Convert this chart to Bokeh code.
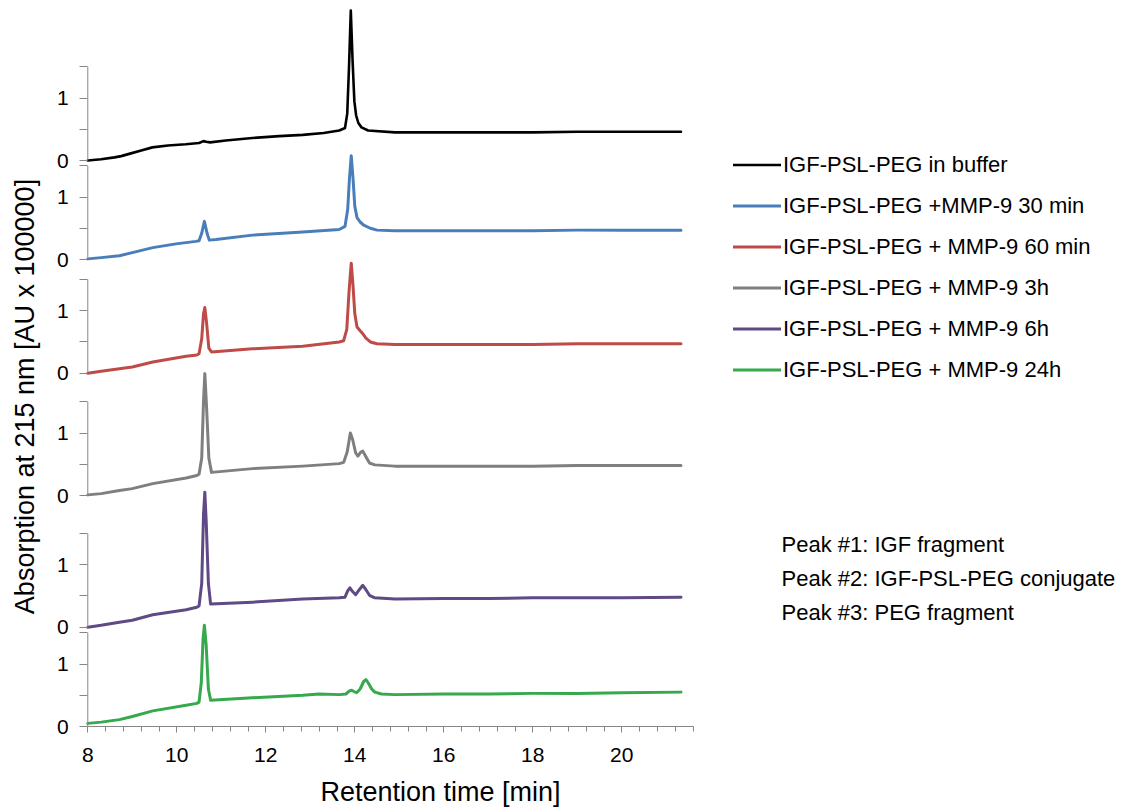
from bokeh.plotting import figure
from bokeh.models import Range1d, FixedTicker, Legend, LegendItem, Label
from bokeh.embed import file_html
from bokeh.resources import INLINE
import math

FONT = "Liberation Sans"

# ---------------- data ----------------
series_names = [
    "IGF-PSL-PEG in buffer",
    "IGF-PSL-PEG +MMP-9 30 min",
    "IGF-PSL-PEG + MMP-9 60 min",
    "IGF-PSL-PEG + MMP-9 3h",
    "IGF-PSL-PEG + MMP-9 6h",
    "IGF-PSL-PEG + MMP-9 24h",
]

x_buffer = [8.0, 8.3, 8.6, 8.75, 8.95, 9.2, 9.45, 9.8, 10.2, 10.5, 10.6, 10.66, 10.75, 11.1, 11.7, 12.3,
            12.83, 13.3, 13.65, 13.78, 13.83, 13.87, 13.91, 13.95, 13.99, 14.03, 14.08, 14.15, 14.3,
            14.9, 16.0, 17.0, 18.0, 19.0, 20.0, 21.33]
y_buffer = [0.0, 0.02, 0.05, 0.07, 0.11, 0.16, 0.21, 0.24, 0.26, 0.28, 0.31, 0.30, 0.29, 0.32, 0.36, 0.39,
            0.41, 0.44, 0.48, 0.52, 0.75, 1.50, 2.40, 1.60, 0.95, 0.72, 0.60, 0.53, 0.48,
            0.45, 0.45, 0.45, 0.45, 0.46, 0.46, 0.46]

x_30min = [8.0, 8.3, 8.71, 9.0, 9.46, 9.98, 10.43, 10.5, 10.56, 10.62, 10.68, 10.73, 10.88, 11.7, 12.83,
           13.65, 13.78, 13.84, 13.88, 13.92, 13.96, 14.0, 14.05, 14.12, 14.2, 14.35, 14.5, 14.9,
           16.0, 17.0, 18.0, 19.0, 20.0, 21.33]
y_30min = [0.01, 0.03, 0.06, 0.11, 0.19, 0.25, 0.29, 0.30, 0.42, 0.61, 0.42, 0.31, 0.32, 0.39, 0.44,
           0.48, 0.53, 0.80, 1.30, 1.66, 1.30, 0.85, 0.67, 0.60, 0.55, 0.50, 0.47, 0.46,
           0.46, 0.46, 0.46, 0.47, 0.47, 0.47]

x_60min = [8.0, 8.3, 8.71, 9.0, 9.46, 10.21, 10.45, 10.5, 10.56, 10.6, 10.63, 10.67, 10.72, 10.78, 11.7,
           12.83, 13.65, 13.75, 13.82, 13.87, 13.92, 13.96, 14.0, 14.05, 14.12, 14.17, 14.25, 14.35,
           14.5, 14.9, 16.0, 17.0, 18.0, 19.0, 20.0, 21.33]
y_60min = [0.0, 0.03, 0.07, 0.10, 0.18, 0.27, 0.29, 0.31, 0.55, 0.95, 1.05, 0.80, 0.40, 0.34, 0.39,
           0.43, 0.50, 0.52, 0.70, 1.30, 1.76, 1.40, 0.95, 0.74, 0.68, 0.64, 0.56, 0.50,
           0.47, 0.46, 0.46, 0.46, 0.46, 0.47, 0.47, 0.47]

x_3h = [8.0, 8.3, 8.71, 9.0, 9.46, 10.21, 10.45, 10.5, 10.56, 10.6, 10.63, 10.67, 10.72, 10.78, 11.7,
        12.83, 13.65, 13.75, 13.83, 13.9, 13.95, 14.02, 14.07, 14.13, 14.18, 14.25, 14.33, 14.45,
        14.9, 16.0, 17.0, 18.0, 19.0, 20.0, 21.33]
y_3h = [0.01, 0.03, 0.08, 0.11, 0.19, 0.28, 0.32, 0.34, 0.60, 1.50, 1.95, 1.40, 0.60, 0.37, 0.43,
        0.47, 0.51, 0.53, 0.70, 1.00, 0.90, 0.68, 0.63, 0.69, 0.71, 0.62, 0.52, 0.49,
        0.47, 0.47, 0.47, 0.47, 0.48, 0.48, 0.48]

x_6h = [8.0, 8.3, 8.71, 9.0, 9.46, 10.21, 10.45, 10.5, 10.56, 10.6, 10.63, 10.66, 10.71, 10.76, 11.7,
        12.83, 13.65, 13.78, 13.84, 13.89, 13.95, 14.02, 14.1, 14.18, 14.25, 14.33, 14.45, 14.9,
        16.0, 17.0, 18.0, 19.0, 20.0, 21.33]
y_6h = [0.0, 0.03, 0.08, 0.11, 0.20, 0.28, 0.32, 0.34, 0.70, 1.80, 2.16, 1.70, 0.70, 0.37, 0.40,
        0.45, 0.47, 0.48, 0.58, 0.63, 0.57, 0.52, 0.60, 0.67, 0.60, 0.51, 0.47, 0.45,
        0.46, 0.46, 0.47, 0.47, 0.47, 0.48]

x_24h = [8.0, 8.3, 8.71, 9.0, 9.46, 10.21, 10.45, 10.5, 10.55, 10.59, 10.62, 10.66, 10.71, 10.76, 11.7,
         12.83, 13.2, 13.65, 13.8, 13.88, 13.93, 13.98, 14.04, 14.12, 14.2, 14.25, 14.3, 14.38, 14.45,
         14.6, 14.9, 16.0, 17.0, 18.0, 19.0, 20.0, 21.33]
y_24h = [0.05, 0.07, 0.11, 0.16, 0.25, 0.34, 0.37, 0.39, 0.70, 1.40, 1.62, 1.30, 0.60, 0.42, 0.46,
         0.50, 0.52, 0.51, 0.52, 0.57, 0.58, 0.56, 0.54, 0.60, 0.72, 0.75, 0.70, 0.60, 0.55,
         0.52, 0.51, 0.52, 0.52, 0.53, 0.53, 0.54, 0.55]

x_values = [x_buffer, x_30min, x_60min, x_3h, x_6h, x_24h]
y_values = [y_buffer, y_30min, y_60min, y_3h, y_6h, y_24h]

x_tick_labels = [8, 10, 12, 14, 16, 18, 20]
y_tick_values = [0, 1]
y_tick_labels = ["0", "1"]
y_minor_values = [0.5, 1.5]
panel_axis_top = 1.5

x_title = "Retention time [min]"
y_title = "Absorption at 215 nm [AU x 100000]"
annotations = ["Peak #1: IGF fragment", "Peak #2: IGF-PSL-PEG conjugate", "Peak #3: PEG fragment"]

# ---------------- layout / style ----------------
colors = ["#000000", "#4a7ebb", "#be4b48", "#7f7f7f", "#5f4a86", "#35a94b"]
widths = [2.6, 3.0, 3.0, 3.0, 3.0, 3.0]
panel_offsets = [9.056, 7.472, 5.653, 3.696, 1.589, 0.0]   # vertical stacking of the panels
AXIS_GRAY = "#868686"
W, H = 1130, 807
PX_X, PX_Y = 44.5, 62.5          # pixels per minute / per unit
X0_PX, Y0_PX = 87.3, 726.0       # page position of (8, 0)


def dx(px):   # page x -> data x
    return 8 + (px - X0_PX) / PX_X


def dy(py):   # page y -> data y
    return (Y0_PX - py) / PX_Y


p = figure(width=W, height=H, output_backend="svg", toolbar_location=None, title=None,
           x_range=Range1d(dx(0), dx(W)), y_range=Range1d(dy(H), dy(0)),
           min_border_left=0, min_border_right=0, min_border_top=0, min_border_bottom=0)
p.outline_line_color = None
p.xgrid.visible = False
p.ygrid.visible = False
p.background_fill_color = "white"
p.border_fill_color = "white"

renderers = []
for xs, ys, c, w, off in zip(x_values, y_values, colors, widths, panel_offsets):
    r = p.line(xs, [v + off for v in ys], line_color=c, line_width=w, line_join="round", line_cap="round")
    renderers.append(r)

# per-panel vertical axis lines
p.segment(x0=[x_tick_labels[0]] * len(panel_offsets), y0=panel_offsets,
          x1=[x_tick_labels[0]] * len(panel_offsets), y1=[o + panel_axis_top for o in panel_offsets],
          line_color=AXIS_GRAY, line_width=1)

# y axis ticks for every panel
major, minor, overrides = [], [], {}
for off in panel_offsets:
    for v, lab in zip(y_tick_values, y_tick_labels):
        t = round(off + v, 4)
        major.append(t)
        overrides[t] = lab
    for v in y_minor_values:
        minor.append(round(off + v, 4))
yax = p.yaxis[0]
yax.fixed_location = x_tick_labels[0]
yax.ticker = FixedTicker(ticks=major, minor_ticks=minor)
yax.bounds = (0, max(panel_offsets) + panel_axis_top + 0.001)
yax.major_label_overrides = overrides
yax.axis_line_color = None
yax.major_tick_line_color = AXIS_GRAY
yax.minor_tick_line_color = AXIS_GRAY
yax.major_tick_out = 8
yax.major_tick_in = 0
yax.minor_tick_out = 8
yax.minor_tick_in = 0
yax.major_label_standoff = 11
yax.major_label_text_font = FONT
yax.major_label_text_font_size = "21px"
yax.major_label_text_color = "#000000"

xax = p.xaxis[0]
xax.fixed_location = 0
x_minor = [round(8 + 0.4 * i, 1) for i in range(35)]
xax.ticker = FixedTicker(ticks=x_tick_labels, minor_ticks=x_minor)
xax.bounds = (8, 21.6)
xax.axis_line_color = AXIS_GRAY
xax.major_tick_line_color = AXIS_GRAY
xax.minor_tick_line_color = AXIS_GRAY
xax.major_tick_out = 6
xax.major_tick_in = 0
xax.minor_tick_out = 5
xax.minor_tick_in = 0
xax.major_label_standoff = 15
xax.major_label_text_font = FONT
xax.major_label_text_font_size = "21px"
xax.major_label_text_color = "#000000"

# axis titles
p.add_layout(Label(x=dx(440), y=dy(791), text=x_title, text_font=FONT, text_font_size="27px",
                   text_align="center", text_baseline="middle", text_color="#000000"))
p.add_layout(Label(x=dx(24), y=dy(396), text=y_title, text_font=FONT, text_font_size="27px",
                   text_align="center", text_baseline="middle", angle=math.pi / 2,
                   text_color="#000000"))

# legend
items = [LegendItem(label=n, renderers=[r]) for n, r in zip(series_names, renderers)]
legend = Legend(items=items, location=(733, H - 383), orientation="vertical",
                glyph_width=48, glyph_height=27, label_height=27, spacing=14, label_standoff=2,
                padding=0, margin=0, border_line_color=None, background_fill_alpha=0,
                label_text_font=FONT, label_text_font_size="22px", label_text_color="#000000")
p.add_layout(legend)

# peak annotations
for txt, py in zip(annotations, [544, 578, 612]):
    p.add_layout(Label(x=dx(781), y=dy(py), text=txt, text_font=FONT, text_font_size="22px",
                       text_align="left", text_baseline="middle", text_color="#000000"))

open("out.html", "w").write(file_html(p, INLINE))
